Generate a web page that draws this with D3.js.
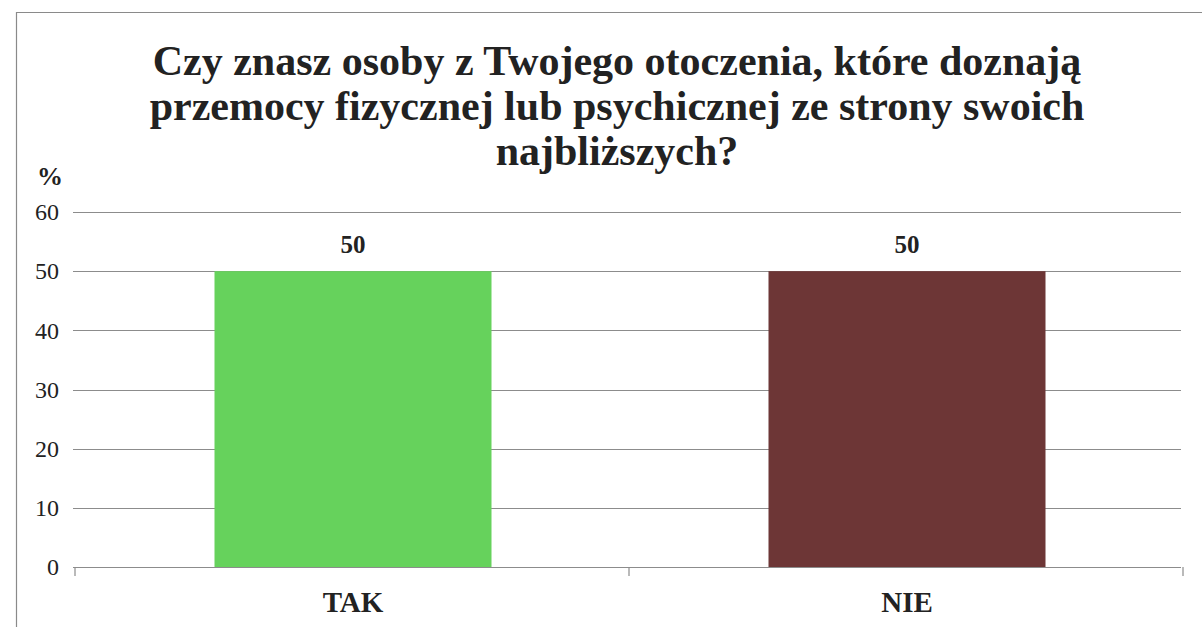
<!DOCTYPE html>
<html>
<head>
<meta charset="utf-8">
<script src="https://cdn.jsdelivr.net/npm/d3@7"></script>
<style>
  html, body { margin: 0; padding: 0; background: #ffffff; }
  svg { display: block; }
</style>
</head>
<body>
<svg id="chart" width="1202" height="627"></svg>
<script>
// Survey answers (percent)
const categories = ["TAK", "NIE"];
const values = [50, 50];
const barColors = ["#66d25c", "#6d3636"];
const yTicks = [0, 10, 20, 30, 40, 50, 60];
const titleLines = [
  "Czy znasz osoby z Twojego otoczenia, które doznają",
  "przemocy fizycznej lub psychicznej ze strony swoich",
  "najbliższych?"
];

const svg = d3.select("#chart");
const serif = "Liberation Serif, Times New Roman, serif";

// Outer frame (top and left edges visible)
svg.append("path")
  .attr("d", "M16.5,627 L16.5,12.5 L1202,12.5")
  .attr("fill", "none")
  .attr("stroke", "#8a8a8a")
  .attr("stroke-width", 1.2);

const plot = { left: 73, right: 1181, top: 212, bottom: 567 };

// Category bands start at the first axis tick, just inside the gridline start
const x = d3.scaleBand()
  .domain(categories)
  .range([plot.left + 3, plot.right + 3])
  .paddingInner(0.5)
  .paddingOuter(0.25);

const y = d3.scaleLinear()
  .domain([0, 60])
  .range([plot.bottom, plot.top]);

// Title
svg.append("text")
  .attr("font-family", serif)
  .attr("font-weight", "bold")
  .attr("font-size", 42)
  .attr("fill", "#222")
  .attr("text-anchor", "middle")
  .selectAll("tspan")
  .data(titleLines)
  .join("tspan")
  .attr("x", 617)
  .attr("y", (d, i) => 75 + i * 45)
  .text(d => d);

// Horizontal gridlines
svg.append("g")
  .selectAll("line")
  .data(yTicks.filter(t => t > 0))
  .join("line")
  .attr("x1", plot.left)
  .attr("x2", plot.right)
  .attr("y1", d => Math.round(y(d)) + 0.5)
  .attr("y2", d => Math.round(y(d)) + 0.5)
  .attr("stroke", "#8c8c8c")
  .attr("stroke-width", 1.2);

// Y axis labels
const yAxis = d3.axisLeft(y)
  .tickValues(yTicks)
  .tickSize(0)
  .tickPadding(14)
  .tickFormat(d3.format("d"));

const gy = svg.append("g")
  .attr("transform", `translate(${plot.left},0)`)
  .call(yAxis);
gy.select(".domain").remove();
gy.selectAll("text")
  .attr("font-family", serif)
  .attr("font-size", 24)
  .attr("fill", "#222");

// Unit label
svg.append("text")
  .attr("x", 50)
  .attr("y", 185)
  .attr("text-anchor", "middle")
  .attr("font-family", serif)
  .attr("font-weight", "bold")
  .attr("font-size", 26)
  .attr("fill", "#222")
  .text("%");

// Bars
const data = categories.map((c, i) => ({ cat: c, value: values[i], color: barColors[i] }));

svg.append("g")
  .selectAll("rect")
  .data(data)
  .join("rect")
  .attr("x", d => x(d.cat))
  .attr("y", d => y(d.value))
  .attr("width", x.bandwidth())
  .attr("height", d => y(0) - y(d.value))
  .attr("fill", d => d.color);

// Value labels
svg.append("g")
  .selectAll("text")
  .data(data)
  .join("text")
  .attr("x", d => x(d.cat) + x.bandwidth() / 2)
  .attr("y", d => y(d.value) - 18)
  .attr("text-anchor", "middle")
  .attr("font-family", serif)
  .attr("font-weight", "bold")
  .attr("font-size", 25)
  .attr("fill", "#222")
  .text(d => d.value);

// X axis baseline with category separators
const xBoundaries = [plot.left, (plot.left + plot.right) / 2, plot.right];
const gx = svg.append("g");
gx.append("line")
  .attr("x1", plot.left)
  .attr("x2", plot.right)
  .attr("y1", y(0) + 0.5)
  .attr("y2", y(0) + 0.5)
  .attr("stroke", "#8c8c8c")
  .attr("stroke-width", 1.2);
gx.selectAll("line.sep")
  .data(xBoundaries)
  .join("line")
  .attr("class", "sep")
  .attr("x1", d => d + 2)
  .attr("x2", d => d + 2)
  .attr("y1", y(0))
  .attr("y2", y(0) + 9)
  .attr("stroke", "#8c8c8c")
  .attr("stroke-width", 1.2);

// Category labels
gx.selectAll("text")
  .data(categories)
  .join("text")
  .attr("x", d => x(d) + x.bandwidth() / 2)
  .attr("y", y(0) + 45)
  .attr("text-anchor", "middle")
  .attr("font-family", serif)
  .attr("font-weight", "bold")
  .attr("font-size", 29)
  .attr("fill", "#222")
  .text(d => d);
</script>
</body>
</html>
